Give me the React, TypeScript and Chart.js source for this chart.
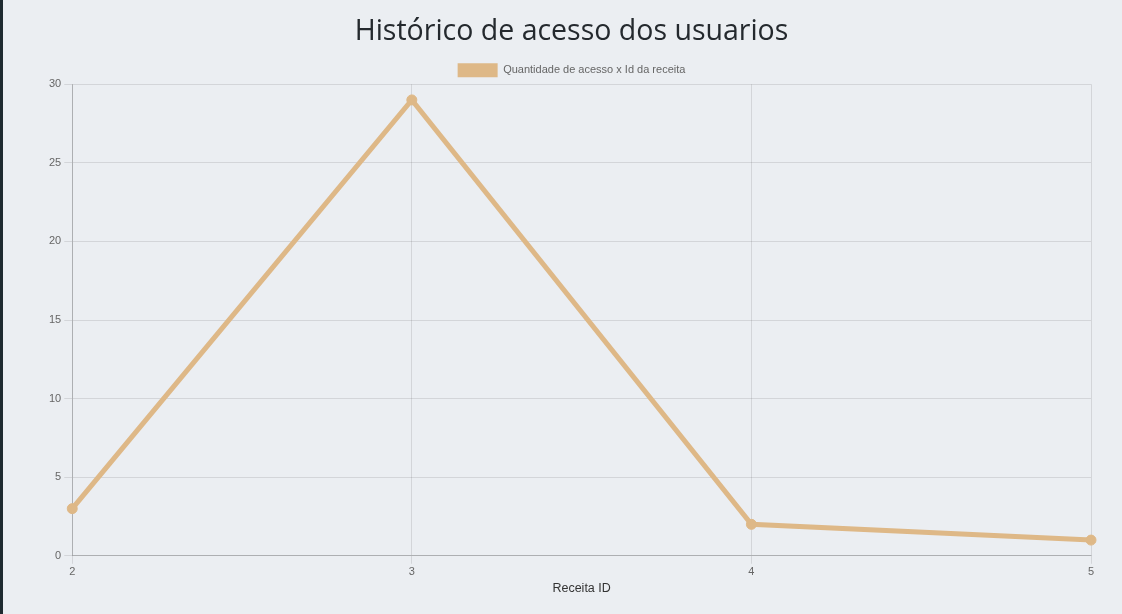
import React, { useEffect, useRef } from "react";
import { Chart, registerables } from "chart.js";

Chart.register(...registerables);

const receitaIds: string[] = ["2", "3", "4", "5"];
const acessos: number[] = [3, 29, 2, 1];
const seriesLabel = "Quantidade de acesso x Id da receita";
const chartTitle = "Histórico de acesso dos usuarios";
const xTitle = "Receita ID";

const sans = "'Liberation Sans', Arial, sans-serif";

const tightLegend = {
  id: "tightLegend",
  beforeLayout(chart: any) {
    const lg = chart.legend;
    if (lg && !lg.__patched) {
      const orig = lg.fit.bind(lg);
      lg.fit = () => {
        orig();
        lg.height = lg.height - 3;
      };
      lg.__patched = true;
    }
  },
};

export default function App() {
  const ref = useRef<HTMLCanvasElement | null>(null);

  useEffect(() => {
    if (!ref.current) return;
    const chart = new Chart(ref.current, {
      type: "line",
      data: {
        labels: receitaIds,
        datasets: [
          {
            label: seriesLabel,
            data: acessos,
            borderColor: "#deb887",
            backgroundColor: "#deb887",
            borderWidth: 5,
            pointRadius: 5,
            pointBorderWidth: 1,
            pointBackgroundColor: "#deb887",
            pointBorderColor: "#deb887",
            tension: 0,
            fill: false,
          },
        ],
      },
      plugins: [tightLegend],
      options: {
        animation: false,
        responsive: false,
        maintainAspectRatio: false,
        layout: { padding: { top: 0, bottom: 0, left: 0, right: 0 } },
        plugins: {
          title: {
            display: true,
            text: chartTitle,
            color: "#24292e",
            font: { family: "'Open Sans', sans-serif", size: 28.5, weight: "normal", lineHeight: 1.2 },
            padding: { top: 15, bottom: 10 },
          },
          legend: {
            display: true,
            labels: {
              boxWidth: 40,
              boxHeight: 14,
              color: "#666",
              font: { family: sans, size: 11 },
              padding: 4,
              generateLabels: (c: any) =>
                Chart.defaults.plugins.legend.labels
                  .generateLabels(c)
                  .map((l: any) => ({ ...l, lineWidth: 0 })),
            },
          },
          tooltip: { enabled: false },
        },
        scales: {
          x: {
            offset: false,
            grid: { color: "rgba(0,0,0,0.1)", tickLength: 8 },
            border: { color: "rgba(0,0,0,0.18)" },
            ticks: {
              color: "#666",
              font: { family: sans, size: 11 },
              padding: 2,
              maxRotation: 0,
            },
            title: {
              display: true,
              text: xTitle,
              color: "#333",
              font: { family: sans, size: 12.5 },
              padding: { top: 0, bottom: 2 },
            },
          },
          y: {
            min: 0,
            max: 30,
            grid: { color: "rgba(0,0,0,0.1)", tickLength: 8 },
            border: { color: "rgba(0,0,0,0.18)" },
            ticks: {
              stepSize: 5,
              color: "#666",
              font: { family: sans, size: 11 },
              padding: 3,
            },
          },
        },
      },
    });
    return () => chart.destroy();
  }, []);

  return (
    <div
      style={{
        position: "fixed",
        left: 0,
        top: 0,
        width: 1122,
        height: 614,
        background: "#ebeef2",
        overflow: "hidden",
      }}
    >
      <div style={{ position: "absolute", left: 0, top: 0, width: 3, height: 614, background: "#1e2a30" }} />
      <canvas
        ref={ref}
        width={1051}
        height={598}
        style={{ position: "absolute", left: 46, top: 0, width: 1051, height: 598 }}
      />
    </div>
  );
}
